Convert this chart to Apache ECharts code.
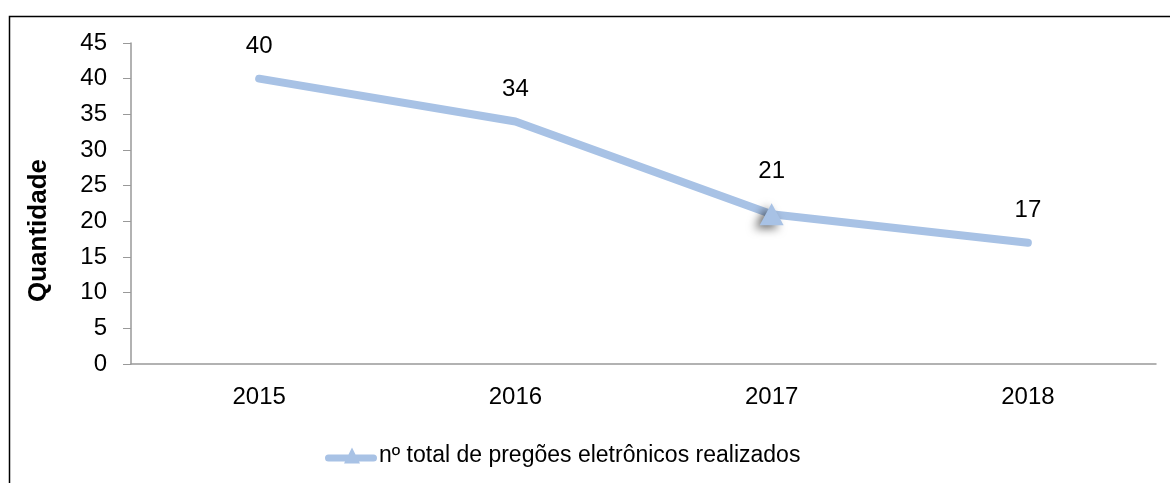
<!DOCTYPE html>
<html>
<head>
<meta charset="utf-8">
<script src="https://cdn.jsdelivr.net/npm/echarts@6/dist/echarts.min.js"></script>
<style>html,body{margin:0;padding:0;background:#fff}#c{width:1170px;height:483px}</style>
</head>
<body>
<div id="c"></div>
<script>
const categories = ['2015', '2016', '2017', '2018'];
const values = [40, 34, 21, 17];
const yTicks = [0, 5, 10, 15, 20, 25, 30, 35, 40, 45];
const seriesName = 'nº total de pregões eletrônicos realizados';
const yName = 'Quantidade';
const markerIndex = 2;

const chart = echarts.init(document.getElementById('c'), null, {renderer: 'canvas'});
const font = '"Liberation Sans", Arial, sans-serif';
const lineColor = '#a8c2e5';
const data = values.map((v, i) => i === markerIndex ? {
  value: v, symbol: 'triangle', symbolSize: [24, 22],
  itemStyle: {color: lineColor, shadowBlur: 10, shadowColor: 'rgba(0,0,0,0.6)', shadowOffsetX: -5, shadowOffsetY: 3}
} : {value: v});

chart.setOption({
  animation: false,
  backgroundColor: '#fff',
  graphic: [{
    type: 'rect', left: 7, top: 14, z: -1,
    shape: {width: 1200, height: 520},
    style: {fill: 'none', stroke: '#000', lineWidth: 1.5}
  }],
  grid: {left: 131, right: 14, top: 43, bottom: 119, containLabel: false},
  legend: {
    left: 320, top: 439,
    itemWidth: 52, itemHeight: 16, itemGap: 10,
    textStyle: {fontFamily: font, fontSize: 23, color: '#000', padding: [0, 0, 0, -3]},
    data: [{name: seriesName, icon: 'path://M3.5,9 h45 a3.5,3.5 0 0 1 0,7 h-45 a3.5,3.5 0 0 1 0,-7z M19,18 L27,2 L35,18z'}]
  },
  xAxis: {
    type: 'category', data: categories, boundaryGap: true,
    axisLine: {lineStyle: {color: '#999', width: 1.5}},
    axisTick: {show: false},
    axisLabel: {fontFamily: font, fontSize: 24, color: '#000', margin: 21}
  },
  yAxis: {
    type: 'value', min: 0, max: 45, interval: 5,
    name: yName, nameLocation: 'middle', nameGap: 79, nameRotate: 90,
    nameTextStyle: {fontFamily: font, fontSize: 26, fontWeight: 'bold', color: '#000', padding: [0, 54, 0, 0]},
    axisLine: {show: true, lineStyle: {color: '#999', width: 1.5}},
    axisTick: {show: true, inside: false, length: 8, lineStyle: {color: '#999'}},
    splitLine: {show: false},
    axisLabel: {fontFamily: font, fontSize: 24, color: '#000', margin: 24,
      formatter: v => yTicks.includes(v) ? String(v) : ''}
  },
  series: [{
    name: seriesName, type: 'line', data: data,
    symbol: 'circle', symbolSize: 1, showSymbol: true,
    lineStyle: {color: lineColor, width: 8, cap: 'round', join: 'round'},
    itemStyle: {color: lineColor},
    label: {show: true, position: 'top', distance: 20, fontFamily: font, fontSize: 24, color: '#000'},
    emphasis: {disabled: true}
  }]
});
</script>
</body>
</html>
